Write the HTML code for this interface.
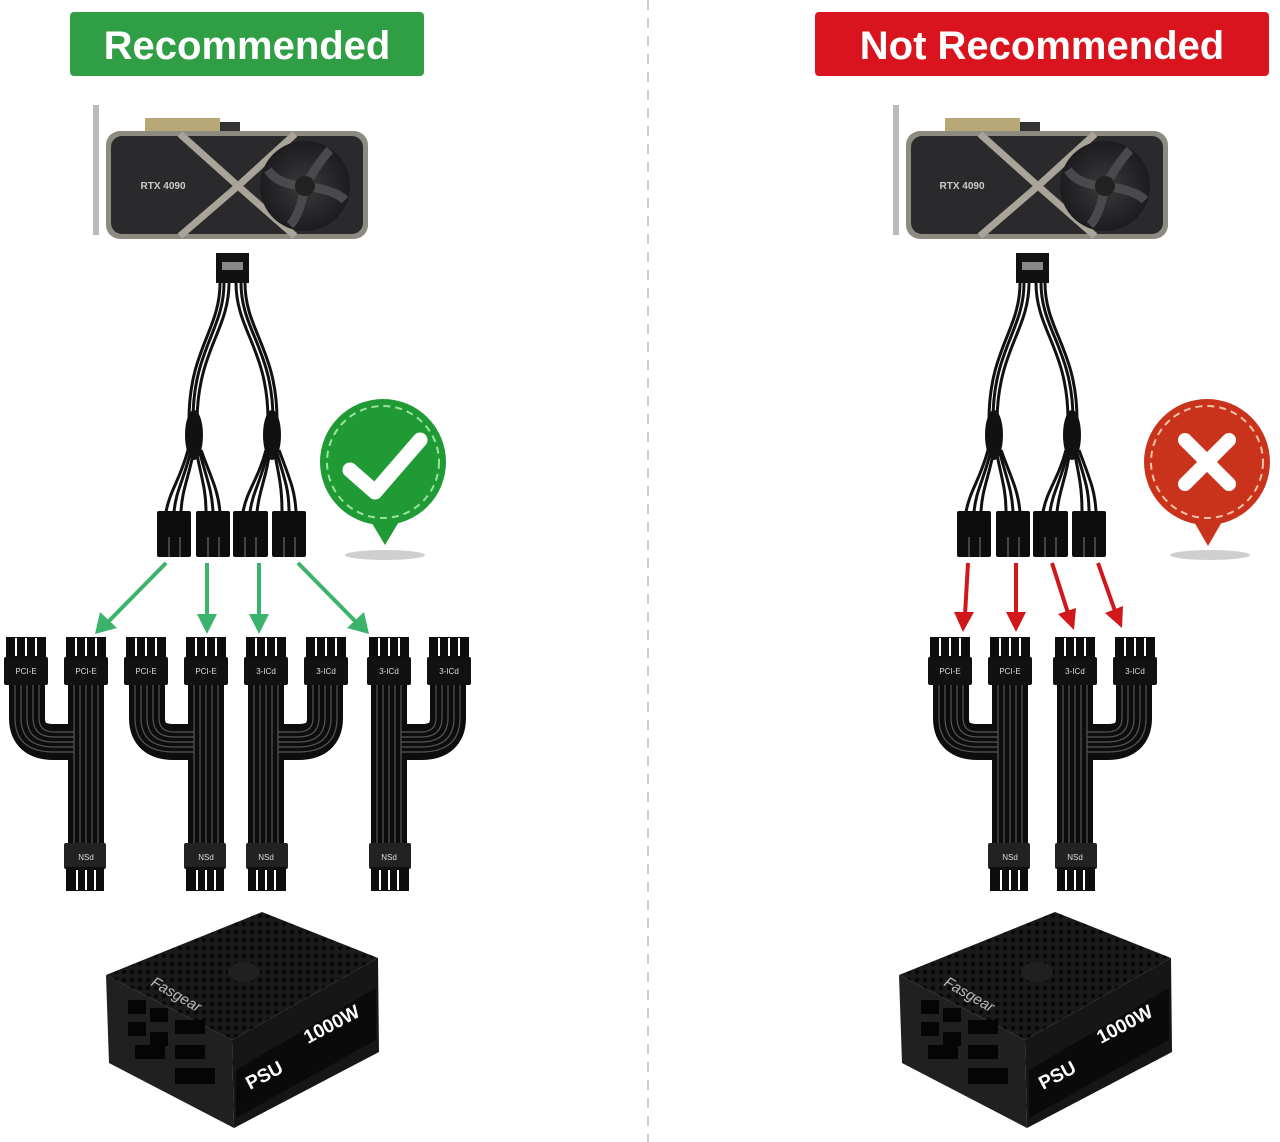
<!DOCTYPE html>
<html><head><meta charset="utf-8"><style>
html,body{margin:0;padding:0;background:#fff;}
svg{display:block;}
text{font-family:"Liberation Sans",sans-serif;}
</style></head><body>
<svg width="1280" height="1142" viewBox="0 0 1280 1142" xmlns="http://www.w3.org/2000/svg">
<defs>
  <radialGradient id="fan" cx="50%" cy="50%" r="50%">
    <stop offset="0" stop-color="#3a3a3c"/><stop offset="1" stop-color="#1c1c1e"/>
  </radialGradient>
  <pattern id="holes" width="8" height="8" patternUnits="userSpaceOnUse">
    <rect width="8" height="8" fill="#1a1a1a"/><circle cx="4" cy="4" r="2.2" fill="#070707"/>
  </pattern>
  <g id="gpu">
    <rect x="93" y="105" width="6" height="130" fill="#bbb"/>
    <rect x="145" y="118" width="75" height="14" fill="#b8a878"/>
    <rect x="220" y="122" width="20" height="10" fill="#333"/>
    <rect x="106" y="131" width="262" height="108" rx="14" fill="#8d8a82"/>
    <rect x="111" y="136" width="252" height="98" rx="11" fill="#2a2a2c"/>
    <path d="M180,134 L238,186 L180,236 M295,134 L238,186 L295,236" stroke="#a8a49a" stroke-width="7" fill="none"/>
    <circle cx="305" cy="186" r="45" fill="url(#fan)"/>
    <g stroke="#4a4a4c" stroke-width="9" fill="none">
      <path d="M305,186 Q320,160 330,150"/><path d="M305,186 Q335,190 345,200"/>
      <path d="M305,186 Q300,215 290,225"/><path d="M305,186 Q278,185 268,170"/>
    </g>
    <circle cx="305" cy="186" r="10" fill="#222"/>
  </g>
  <g id="ycable">
    <rect x="216" y="253" width="33" height="30" fill="#111"/>
    <rect x="222" y="262" width="21" height="8" fill="#888"/>
    <g stroke="#111" stroke-width="3" fill="none">
      <path d="M224,283 C224,330 193,350 193,420"/><path d="M229,283 C229,330 198,350 197,420"/>
      <path d="M220,283 C220,330 189,350 189,420"/>
      <path d="M236,283 C236,330 268,350 268,420"/><path d="M241,283 C241,330 273,350 273,420"/>
      <path d="M245,283 C245,330 277,350 277,420"/>
      <path d="M188,450 C180,480 170,490 166,512"/><path d="M191,450 C184,480 176,490 174,512"/><path d="M194,450 C188,480 182,490 181,512"/>
      <path d="M196,450 C202,480 206,490 206,512"/><path d="M199,450 C207,480 212,490 213,512"/><path d="M201,450 C212,480 218,490 220,512"/>
      <path d="M266,450 C258,480 247,490 243,512"/><path d="M268,450 C262,480 253,490 250,512"/><path d="M270,450 C266,480 259,490 257,512"/>
      <path d="M274,450 C280,480 282,490 282,512"/><path d="M276,450 C285,480 289,490 289,512"/><path d="M279,450 C290,480 295,490 296,512"/>
    </g>
    <ellipse cx="194" cy="435" rx="9" ry="25" fill="#111"/>
    <ellipse cx="272" cy="435" rx="9" ry="25" fill="#111"/>
    <g fill="#0d0d0d">
      <rect x="157" y="511" width="34" height="46" rx="2"/><rect x="196" y="511" width="34" height="46" rx="2"/>
      <rect x="233" y="511" width="35" height="46" rx="2"/><rect x="272" y="511" width="34" height="46" rx="2"/>
    </g>
    <g stroke="#444" stroke-width="2">
      <path d="M169,537V557M180,537V557M208,537V557M219,537V557M245,537V557M256,537V557M284,537V557M295,537V557"/>
    </g>
  </g>
  <g id="unit">
    <path d="M23,684 V718 Q23,742 50,742 H82" stroke="#0d0d0d" stroke-width="36" fill="none"/>
    <rect x="64" y="684" width="36" height="162" fill="#0d0d0d"/>
    <g stroke="#555" stroke-width="1.2" fill="none">
      <path d="M11,684V718Q11,752 50,752H70M17,684V718Q17,747 50,747H70M23,684V718Q23,742 50,742H70M29,684V718Q29,737 50,737H70M35,684V718Q35,732 50,732H70"/>
      <path d="M70,684V846M76,684V846M82,684V846M88,684V846M94,684V846"/>
    </g>
    <rect x="2" y="637" width="40" height="22" fill="#0d0d0d"/>
    <rect x="0" y="657" width="44" height="28" rx="2" fill="#111"/>
    <rect x="62" y="637" width="40" height="22" fill="#0d0d0d"/>
    <rect x="60" y="657" width="44" height="28" rx="2" fill="#111"/>
    <g stroke="#fff" stroke-width="2"><path d="M12,638V656M22,638V656M32,638V656M72,638V656M82,638V656M92,638V656"/></g>
    <rect x="60" y="843" width="42" height="26" rx="2" fill="#222"/>
    <rect x="62" y="867" width="38" height="24" fill="#0d0d0d"/>
    <g stroke="#fff" stroke-width="2"><path d="M73,870V890M82,870V890M91,870V890"/></g>
  </g>
  <g id="psu">
    <polygon points="106,975 262,912 378,958 232,1040" fill="url(#holes)"/>
    <ellipse cx="244" cy="972" rx="16" ry="10" fill="#202020"/>
    <polygon points="106,975 232,1040 234,1128 109,1063" fill="#202020"/>
    <polygon points="232,1040 378,958 379,1052 234,1128" fill="#161616"/>
    <polygon points="236,1070 376,988 376,1040 236,1118" fill="#0a0a0a"/>
    <g fill="#050505">
      <rect x="128" y="1000" width="18" height="14"/><rect x="150" y="1008" width="18" height="14"/><rect x="175" y="1020" width="30" height="14"/>
      <rect x="128" y="1022" width="18" height="14"/><rect x="150" y="1032" width="18" height="14"/><rect x="175" y="1045" width="30" height="14"/>
      <rect x="135" y="1045" width="30" height="14"/><rect x="175" y="1068" width="40" height="16"/>
    </g>
  </g>
</defs>

<line x1="648" y1="0" x2="648" y2="1142" stroke="#cfcfcf" stroke-width="2" stroke-dasharray="10,8"/>

<rect x="70" y="12" width="354" height="64" rx="4" fill="#2f9e45"/>
<text x="247" y="59" text-anchor="middle" font-size="40" font-weight="bold" fill="#fff">Recommended</text>
<rect x="815" y="12" width="454" height="64" rx="4" fill="#d9141e"/>
<text x="1042" y="59" text-anchor="middle" font-size="40" font-weight="bold" fill="#fff">Not Recommended</text>

<use href="#gpu"/>
<text x="163" y="189" text-anchor="middle" font-size="10" font-weight="bold" fill="#ccc">RTX 4090</text>
<use href="#ycable"/>

<ellipse cx="385" cy="555" rx="40" ry="5" fill="#bbb" opacity="0.7"/>
<path d="M370,520 L385,545 L400,520 Z" fill="#1f9a35"/>
<circle cx="383" cy="462" r="63" fill="#1f9a35"/>
<circle cx="383" cy="462" r="56" fill="none" stroke="#9de39f" stroke-width="2" stroke-dasharray="7,5"/>
<path d="M350,470 L375,492 L420,440" stroke="#fff" stroke-width="15" stroke-linecap="round" stroke-linejoin="round" fill="none"/>

<g stroke="#3bb36a" stroke-width="4" fill="#3bb36a">
  <line x1="166" y1="563" x2="108" y2="622"/><polygon points="95,634 100,612 117,628" stroke="none"/>
  <line x1="207" y1="563" x2="207" y2="618"/><polygon points="207,634 197,614 217,614" stroke="none"/>
  <line x1="259" y1="563" x2="259" y2="618"/><polygon points="259,634 249,614 269,614" stroke="none"/>
  <line x1="298" y1="563" x2="356" y2="622"/><polygon points="369,634 347,628 364,612" stroke="none"/>
</g>

<use href="#unit" transform="translate(4,0)"/>
<use href="#unit" transform="translate(124,0)"/>
<use href="#unit" transform="translate(348,0) scale(-1,1)"/>
<use href="#unit" transform="translate(471,0) scale(-1,1)"/>
<g font-size="8" fill="#ddd" text-anchor="middle">
  <text x="26" y="674">PCI-E</text><text x="86" y="674">PCI-E</text>
  <text x="146" y="674">PCI-E</text><text x="206" y="674">PCI-E</text>
  <text x="266" y="674">3-ICd</text><text x="326" y="674">3-ICd</text>
  <text x="389" y="674">3-ICd</text><text x="449" y="674">3-ICd</text>
  <text x="86" y="860">NSd</text><text x="206" y="860">NSd</text>
  <text x="266" y="860">NSd</text><text x="389" y="860">NSd</text>
</g>

<use href="#psu"/>
<text x="0" y="0" font-size="15" font-style="italic" fill="#bbb" transform="translate(150,985) rotate(30)">Fasgear</text>
<text x="0" y="0" font-size="19" font-weight="bold" fill="#fff" transform="translate(250,1090) rotate(-28)">PSU</text>
<text x="0" y="0" font-size="19" font-weight="bold" fill="#fff" transform="translate(308,1044) rotate(-28)">1000W</text>

<use href="#gpu" transform="translate(800,0)"/>
<text x="962" y="189" text-anchor="middle" font-size="10" font-weight="bold" fill="#ccc">RTX 4090</text>
<use href="#ycable" transform="translate(800,0)"/>

<ellipse cx="1210" cy="555" rx="40" ry="5" fill="#bbb" opacity="0.7"/>
<path d="M1193,520 L1208,546 L1223,520 Z" fill="#c9331c"/>
<circle cx="1207" cy="462" r="63" fill="#c9331c"/>
<circle cx="1207" cy="462" r="56" fill="none" stroke="#f6c3a8" stroke-width="2" stroke-dasharray="7,5"/>
<path d="M1185,440 L1229,484 M1229,440 L1185,484" stroke="#fff" stroke-width="14" stroke-linecap="round"/>

<g stroke="#d0181b" stroke-width="4" fill="#d0181b">
  <line x1="968" y1="563" x2="965" y2="615"/><polygon points="963,632 954,612 974,612" stroke="none"/>
  <line x1="1016" y1="563" x2="1016" y2="615"/><polygon points="1016,632 1006,612 1026,612" stroke="none"/>
  <line x1="1052" y1="563" x2="1068" y2="613"/><polygon points="1074,630 1058,614 1076,608" stroke="none"/>
  <line x1="1098" y1="563" x2="1115" y2="611"/><polygon points="1122,628 1105,613 1123,606" stroke="none"/>
</g>

<use href="#unit" transform="translate(928,0)"/>
<use href="#unit" transform="translate(1157,0) scale(-1,1)"/>
<g font-size="8" fill="#ddd" text-anchor="middle">
  <text x="950" y="674">PCI-E</text><text x="1010" y="674">PCI-E</text>
  <text x="1075" y="674">3-ICd</text><text x="1135" y="674">3-ICd</text>
  <text x="1010" y="860">NSd</text><text x="1075" y="860">NSd</text>
</g>

<use href="#psu" transform="translate(793,0)"/>
<text x="0" y="0" font-size="15" font-style="italic" fill="#bbb" transform="translate(943,985) rotate(30)">Fasgear</text>
<text x="0" y="0" font-size="19" font-weight="bold" fill="#fff" transform="translate(1043,1090) rotate(-28)">PSU</text>
<text x="0" y="0" font-size="19" font-weight="bold" fill="#fff" transform="translate(1101,1044) rotate(-28)">1000W</text>
</svg>
</body></html>
